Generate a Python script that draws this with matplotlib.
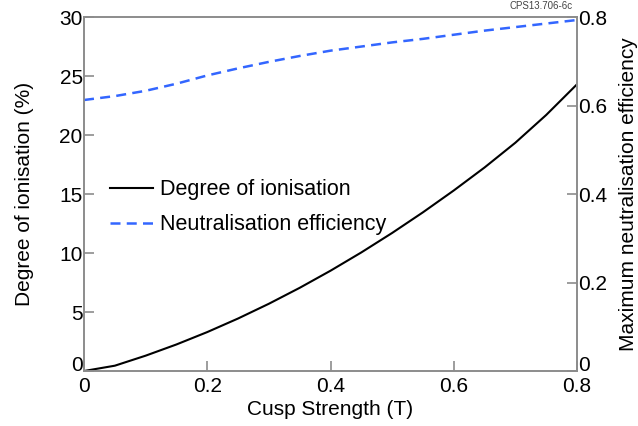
import numpy as np
import matplotlib.pyplot as plt

plt.rcParams['font.family'] = ['Liberation Sans', 'DejaVu Sans']

# Cusp strength (T)
cusp = [0.0, 0.05, 0.1, 0.15, 0.2, 0.25, 0.3, 0.35, 0.4, 0.45, 0.5, 0.55, 0.6, 0.65, 0.7, 0.75, 0.8]
# degree of ionisation (%)
ionisation = [0.0, 0.45, 1.3, 2.25, 3.3, 4.45, 5.7, 7.05, 8.5, 10.05, 11.7, 13.45, 15.3, 17.25,
              19.35, 21.7, 24.3]
# maximum neutralisation efficiency
neutral_eff = [0.6125, 0.6213, 0.6333, 0.6493, 0.668, 0.684, 0.6987, 0.712, 0.724, 0.7333, 0.7427,
               0.7507, 0.760, 0.7693, 0.7773, 0.7853, 0.7933]

grey = '#8c8c8c'

fig = plt.figure(figsize=(6.38, 4.26), dpi=100)
ax = fig.add_axes([0.1317, 0.1291, 0.7727, 0.8309])
ax2 = ax.twinx()

l1, = ax.plot(cusp, ionisation, color='black', lw=1.5, label='Degree of ionisation')
l2, = ax2.plot(cusp, neutral_eff, color='#3366ff', lw=1.8, dashes=(4, 2.5), label='Neutralisation efficiency')

ax.set_xlim(0, 0.8)
ax.set_ylim(0, 30)
ax2.set_ylim(0, 0.8)
ax.set_xticks([0, 0.2, 0.4, 0.6, 0.8])
ax.set_xticklabels(['0', '0.2', '0.4', '0.6', '0.8'])
ax.set_yticks([0, 5, 10, 15, 20, 25, 30])
ax2.set_yticks([0, 0.2, 0.4, 0.6, 0.8])
ax2.set_yticklabels(['0', '0.2', '0.4', '0.6', '0.8'])

for a in (ax, ax2):
    for s in a.spines.values():
        s.set_color(grey)
        s.set_linewidth(1.2)
    a.tick_params(direction='in', length=7, width=1.2, color=grey, labelsize=15, pad=1)
ax.tick_params(axis='x', pad=4)

# the "0" labels sit on the axis, above the x tick labels
ax.get_yticklabels()[0].set_va('baseline')
ax2.get_yticklabels()[0].set_va('baseline')

ax.set_xlabel('Cusp Strength (T)', fontsize=15, labelpad=3)
ax.set_ylabel('Degree of ionisation (%)', fontsize=15, labelpad=18)
ax2.set_ylabel('Maximum neutralisation efficiency', fontsize=15, labelpad=8)

ax.legend(handles=[l1, l2], loc='center left', bbox_to_anchor=(0.014, 0.463),
          frameon=False, fontsize=15.5, handlelength=2.0, handletextpad=0.3, labelspacing=0.65)

fig.text(0.898, 0.975, 'CPS13.706-6c', fontsize=7, color='#444444', ha='right', va='bottom')

fig.savefig('out.png', dpi=100)
